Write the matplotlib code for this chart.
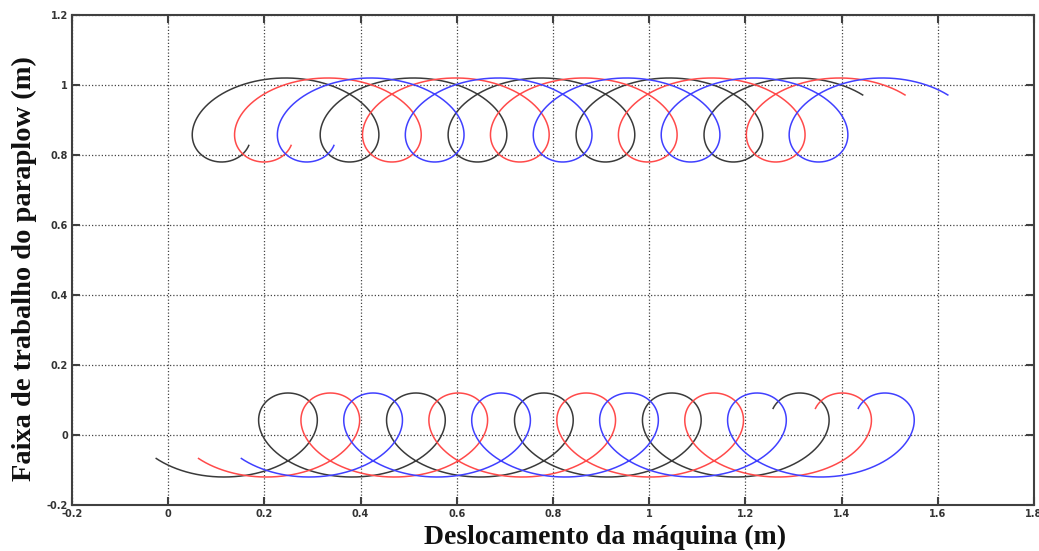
import numpy as np
import matplotlib
matplotlib.use("Agg")
import matplotlib.pyplot as plt

# ---- axis data -------------------------------------------------------
x_ticks = [-0.2, 0.0, 0.2, 0.4, 0.6, 0.8, 1.0, 1.2, 1.4, 1.6, 1.8]
x_tick_labels = ["-0.2", "0", "0.2", "0.4", "0.6", "0.8", "1", "1.2", "1.4", "1.6", "1.8"]
y_ticks = [-0.2, 0.0, 0.2, 0.4, 0.6, 0.8, 1.0, 1.2]
y_tick_labels = ["-0.2", "0", "0.2", "0.4", "0.6", "0.8", "1", "1.2"]

# ---- path data (trochoid of the paraplow tine) ----
series_colors = ["#3a3a3a", "#ff4a4a", "#4040ff"]   # three passes
series_shift = [0.0, 0.088, 0.177]                  # x offset of each pass (m)
pitch = 0.266                                       # advance per revolution (m)
radius = 0.12                                       # tine radius (m)

upper_center = 0.90       # y of upper tine axis (m)
upper_x0 = -0.022         # x of upper path at phase 0 (m)
upper_phase = [2.20, 32.36]   # start / end phase (rad)

lower_center = 0.0
lower_x0 = 0.116
lower_phase = [-0.99, 29.18]

# ---- figure ----------------------------------------------------------
W, H = 1039, 551
fig = plt.figure(figsize=(W / 100, H / 100), dpi=100)
ax = fig.add_axes([72 / W, 1 - 505 / H, (1034 - 72) / W, (505 - 15) / H])

a = pitch / (2 * np.pi)
for color, shift in zip(series_colors, series_shift):
    th = np.linspace(upper_phase[0], upper_phase[1], 3000)
    ax.plot(upper_x0 + shift + a * th + radius * np.sin(th),
            upper_center + radius * np.cos(th), color=color, lw=1.1,
            solid_capstyle="butt")
    th = np.linspace(lower_phase[0], lower_phase[1], 3000)
    ax.plot(lower_x0 + shift + a * th + radius * np.sin(th),
            lower_center - radius * np.cos(th), color=color, lw=1.1,
            solid_capstyle="butt")

ax.set_xlim(-0.2, 1.8)
ax.set_ylim(-0.2, 1.2)
ax.set_xticks(x_ticks)
ax.set_xticklabels(x_tick_labels)
ax.set_yticks(y_ticks)
ax.set_yticklabels(y_tick_labels)

ax.grid(True, color="#444444", linestyle=(0, (1.0, 1.6)), linewidth=0.9)
ax.set_axisbelow(True)
for s in ax.spines.values():
    s.set_color("#404040")
    s.set_linewidth(1.5)
ax.tick_params(direction="in", length=6, width=1.5, color="#404040",
               top=True, right=True, labelsize=7, labelcolor="#333333", pad=3)
for lab in ax.get_xticklabels() + ax.get_yticklabels():
    lab.set_fontweight("bold")
    lab.set_family("DejaVu Sans")

fig.text(605 / W, 1 - 537 / H, "Deslocamento da máquina (m)",
         family="Liberation Serif", fontweight="bold", fontsize=20,
         ha="center", va="center", color="#111111")
fig.text(24 / W, 1 - 269 / H, "Faixa de trabalho do paraplow (m)",
         family="Liberation Serif", fontweight="bold", fontsize=20.5,
         ha="center", va="center", rotation=90, color="#111111")

fig.savefig("out.png", dpi=100)
